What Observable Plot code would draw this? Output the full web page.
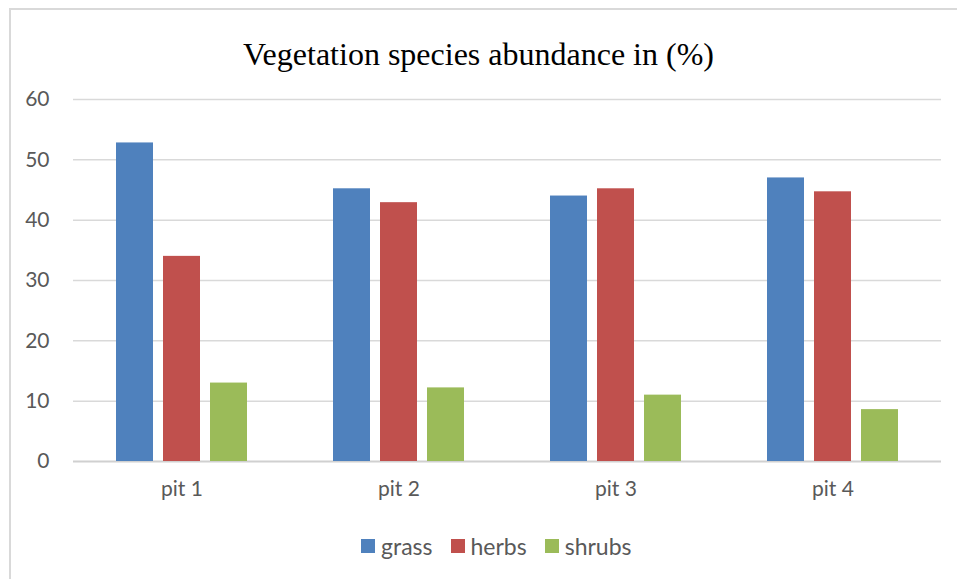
<!DOCTYPE html>
<html>
<head>
<meta charset="utf-8">
<script src="https://cdn.jsdelivr.net/npm/d3@7"></script>
<script src="https://cdn.jsdelivr.net/npm/@observablehq/plot@0.6"></script>
<style>
  html, body { margin: 0; padding: 0; background: #fff; }
  #wrap { position: relative; width: 957px; height: 579px; overflow: hidden; background: #fff; }
  #frame { position: absolute; left: 9px; top: 8px; width: 1000px; height: 600px;
           border-left: 2px solid #d9d9d9; border-top: 2px solid #d9d9d9; box-sizing: border-box; }
  #title { position: absolute; left: 0; top: 38px; width: 957px; text-align: center;
           font-family: "Liberation Serif", "Times New Roman", serif; font-size: 32px; color: #000; line-height: 1; }
  #chart { position: absolute; left: 0; top: 80px; }
  #legend { position: absolute; left: 361px; top: 532px; display: flex; align-items: center;
            font-family: Lato, "Open Sans", sans-serif; font-size: 23px; color: #595959; }
  #legend .item { display: flex; align-items: center; margin-right: 18px; }
  #legend .sw { width: 14px; height: 14px; margin-right: 6px; }
</style>
</head>
<body>
<div id="wrap">
  <div id="frame"></div>
  <div id="title">Vegetation species abundance in (%)</div>
  <div id="chart"></div>
  <div id="legend"></div>
</div>
<script>
const pits = ["pit 1", "pit 2", "pit 3", "pit 4"];
const species = ["grass", "herbs", "shrubs"];
const grass = [52.8, 45.2, 44.0, 47.0];
const herbs = [34.0, 42.9, 45.2, 44.7];
const shrubs = [13.0, 12.2, 11.0, 8.6];
const colors = ["#4f81bd", "#c0504d", "#9bbb59"];
const yTicks = [0, 10, 20, 30, 40, 50, 60];

const series = [grass, herbs, shrubs];
const rows = pits.flatMap((p, i) => species.map((s, j) => ({pit: p, species: s, value: series[j][i]})));

const chart = Plot.plot({
  width: 957,
  height: 430,
  marginTop: 19,
  marginBottom: 49,
  marginLeft: 72,
  marginRight: 15,
  style: {fontFamily: "Lato, 'Open Sans', sans-serif", fontSize: "20px", color: "#595959", background: "transparent"},
  fx: {domain: pits, padding: 0, label: null, axis: null},
  x: {domain: species, paddingInner: 0.208, paddingOuter: 0.87, axis: null},
  y: {domain: [0, 60], label: null, axis: null},
  color: {domain: species, range: colors},
  marks: [
    Plot.ruleY(yTicks.filter(d => d > 0), {stroke: "#d9d9d9", strokeWidth: 1.5}),
    Plot.ruleY([0], {stroke: "#d0d0d0", strokeWidth: 1.8}),
    Plot.barY(rows, {fx: "pit", x: "species", y: "value", fill: "species"}),
    Plot.axisY(yTicks, {tickSize: 0, tickPadding: 24, label: null, fontSize: 21}),
    Plot.axisFx({anchor: "bottom", tickSize: 0, tickPadding: 20, label: null, fontSize: 21})
  ]
});
document.getElementById("chart").appendChild(chart);

const legend = document.getElementById("legend");
species.forEach((s, j) => {
  const item = document.createElement("div");
  item.className = "item";
  const sw = document.createElement("div");
  sw.className = "sw";
  sw.style.background = colors[j];
  const label = document.createElement("span");
  label.textContent = s;
  item.appendChild(sw);
  item.appendChild(label);
  legend.appendChild(item);
});
</script>
</body>
</html>
